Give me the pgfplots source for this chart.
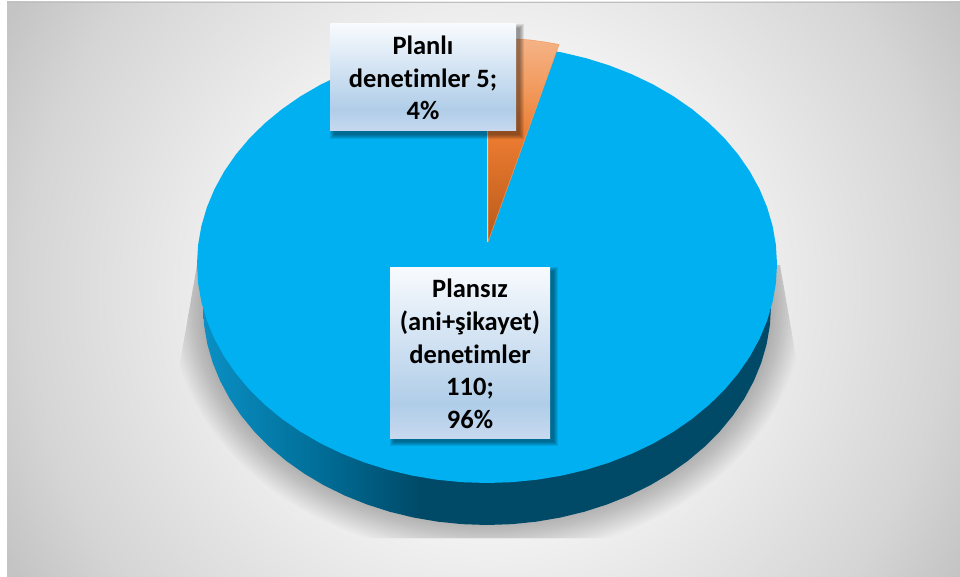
\documentclass[border=0pt]{standalone}
\usepackage{pgfplots}
\usepackage{pgfplotstable}
\usepackage{fontspec}
\setmainfont{Carlito}[Ligatures=NoCommon]
\pgfplotsset{compat=1.18}
\definecolor{blue}{HTML}{00B0F0}
\definecolor{sideA}{HTML}{0A90C4}
\definecolor{sideB}{HTML}{006B94}
\definecolor{sideC}{HTML}{004A68}
\definecolor{orA}{HTML}{B85A1A}
\definecolor{orB}{HTML}{EA7A30}
\definecolor{orC}{HTML}{F2995C}
\definecolor{orD}{HTML}{F5B488}
\definecolor{bxA}{HTML}{C7D9EF}
\definecolor{bxB}{HTML}{B0CDE8}
\definecolor{bxC}{HTML}{F8FBFE}
\definecolor{bgA}{HTML}{F2F2F2}
\definecolor{bgB}{HTML}{D5D5D5}
\definecolor{bgC}{HTML}{C4C4C4}
\pgfdeclarehorizontalshading{sideshade}{100bp}{color(0bp)=(sideA); color(25bp)=(sideA); color(36bp)=(sideB); color(44bp)=(sideC); color(100bp)=(sideC)}
\pgfdeclareverticalshading{orshade}{100bp}{color(0bp)=(orA); color(25bp)=(orA); color(50bp)=(orB); color(62bp)=(orC); color(75bp)=(orD); color(100bp)=(orD)}
\pgfdeclareverticalshading{boxshade}{100bp}{color(0bp)=(bxA); color(25bp)=(bxA); color(35bp)=(bxB); color(75bp)=(bxC); color(100bp)=(bxC)}
\pgfdeclareradialshading{bgshade}{\pgfpoint{0bp}{0bp}}{color(0bp)=(bgA); color(11bp)=(bgA); color(21bp)=(bgB); color(25bp)=(bgC); color(50bp)=(bgC)}
% unit circle, used for the rim of the pie
\pgfplotstableread{
c s
1.0000 0.0000
0.9962 0.0872
0.9848 0.1736
0.9659 0.2588
0.9397 0.3420
0.9063 0.4226
0.8660 0.5000
0.8192 0.5736
0.7660 0.6428
0.7071 0.7071
0.6428 0.7660
0.5736 0.8192
0.5000 0.8660
0.4226 0.9063
0.3420 0.9397
0.2588 0.9659
0.1736 0.9848
0.0872 0.9962
0.0000 1.0000
-0.0872 0.9962
-0.1736 0.9848
-0.2588 0.9659
-0.3420 0.9397
-0.4226 0.9063
-0.5000 0.8660
-0.5736 0.8192
-0.6428 0.7660
-0.7071 0.7071
-0.7660 0.6428
-0.8192 0.5736
-0.8660 0.5000
-0.9063 0.4226
-0.9397 0.3420
-0.9659 0.2588
-0.9848 0.1736
-0.9962 0.0872
-1.0000 0.0000
-0.9962 -0.0872
-0.9848 -0.1736
-0.9659 -0.2588
-0.9397 -0.3420
-0.9063 -0.4226
-0.8660 -0.5000
-0.8192 -0.5736
-0.7660 -0.6428
-0.7071 -0.7071
-0.6428 -0.7660
-0.5736 -0.8192
-0.5000 -0.8660
-0.4226 -0.9063
-0.3420 -0.9397
-0.2588 -0.9659
-0.1736 -0.9848
-0.0872 -0.9962
0.0000 -1.0000
0.0872 -0.9962
0.1736 -0.9848
0.2588 -0.9659
0.3420 -0.9397
0.4226 -0.9063
0.5000 -0.8660
0.5736 -0.8192
0.6428 -0.7660
0.7071 -0.7071
0.7660 -0.6428
0.8192 -0.5736
0.8660 -0.5000
0.9063 -0.4226
0.9397 -0.3420
0.9659 -0.2588
0.9848 -0.1736
0.9962 -0.0872
1.0000 0.0000
}\unitcircle
\begin{document}
\begin{tikzpicture}
\useasboundingbox (0,0) rectangle (960pt,577pt);
\begin{axis}[at={(0,0)},anchor=south west,width=960pt,height=577pt,scale only axis,
  xmin=0,xmax=960,ymin=0,ymax=577,y dir=reverse,hide axis,clip=true]
% background
\begin{scope}
\clip (axis cs:7,2) rectangle (axis cs:960,577);
\path[shading=bgshade] (axis cs:-63,-260) rectangle (axis cs:1037,840);
\end{scope}
\draw[color=black!25,line width=1pt] (axis cs:7,2.5) -- (axis cs:960,2.5);
% shadow below the pie
\begin{scope}
\clip (axis cs:197,265) -- (axis cs:177,380) -- (axis cs:177,538) -- (axis cs:800,538) -- (axis cs:800,380) -- (axis cs:780,265) -- cycle;
\pgfplotsinvokeforeach{2,4,...,32}{
  \fill[black,fill opacity=0.016] (axis cs:487,306) ellipse [x radius={284+#1}, y radius={219+#1}];
}
\end{scope}
% pie side
\addplot[draw=none,shading=sideshade] table[x expr={487+284*\thisrow{c}},y expr={306+219*\thisrow{s}}] {\unitcircle} -- cycle;
% pie top: Plansiz 110
\addplot[draw=none,fill=blue] table[x expr={487+290*\thisrow{c}},y expr={264+219*\thisrow{s}}] {\unitcircle} -- cycle;
% slice: Planli 5
\addplot[color=orC,line width=0.5pt,shading=orshade] coordinates {(488,242) (488,37) (500,37.5) (516,39) (530,40) (545,42) (559,44.5)} -- cycle;
\addplot[color=white,opacity=0.7,line width=0.8pt] coordinates {(487,242) (487,130)};
% label boxes
\pgfplotsinvokeforeach{0,1,2,3,4}{
  \fill[black,fill opacity=0.09] (axis cs:{334-#1},{28-#1}) rectangle (axis cs:{520+#1},{135+#1});
  \fill[black,fill opacity=0.09] (axis cs:{394-#1},{271-#1}) rectangle (axis cs:{554+#1},{442+#1});
}
\path[shading=boxshade] (axis cs:330,24) rectangle (axis cs:516,131);
\path[shading=boxshade] (axis cs:390,267) rectangle (axis cs:550,438);
\node[align=center,font=\bfseries\fontsize{26.5}{32.7}\selectfont,inner sep=0pt] at (axis cs:423,78) {Planlı\\denetimler 5;\\4\%};
\node[align=center,font=\bfseries\fontsize{26.5}{32.7}\selectfont,inner sep=0pt] at (axis cs:470,354) {Plansız\\(ani+şikayet)\\denetimler\\110;\\96\%};
\end{axis}
\end{tikzpicture}
\end{document}
